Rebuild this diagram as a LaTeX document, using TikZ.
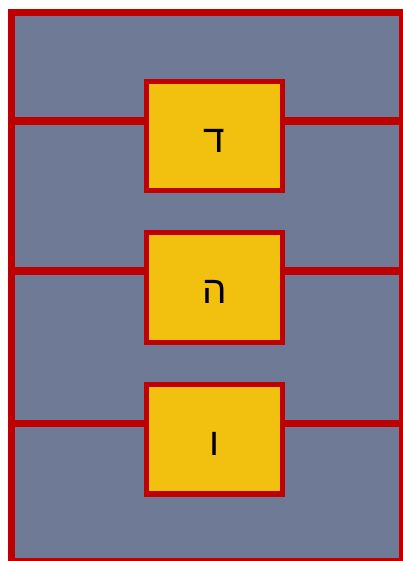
\documentclass[tikz,border=0pt]{standalone}
\usepackage{fontspec}
\setmainfont{Liberation Sans}
\newfontfamily\hebfont[Script=Hebrew]{Liberation Sans}
\TeXXeTstate=1
\usetikzlibrary{positioning, arrows.meta, calc}
\definecolor{frmred}{RGB}{192,0,0}
\definecolor{slateback}{RGB}{110,122,150}
\definecolor{boxyellow}{RGB}{242,192,14}
\newcommand{\hebletter}[1]{\raisebox{-0.09cm}[\height][\depth]{\beginR #1\endR}}
\tikzset{
    letterbox/.style={rectangle, draw=frmred, fill=boxyellow, line width=0.1cm, minimum width=2.72cm, minimum height=2.19cm, align=center, font=\hebfont\fontsize{22}{26}\selectfont, text=black, inner sep=0pt},
    busline/.style={draw=frmred, line width=0.15cm},
    frame/.style={draw=frmred, fill=slateback, line width=0.14cm}
}
\begin{document}
\begin{tikzpicture}
    \clip (0,0) rectangle (8.06,11.22);
    \draw[frame] (0.22,-0.01) rectangle (8.05,10.96);
    % rails
    \coordinate (lft1) at (0.22,8.8);  \coordinate (rgt1) at (8.05,8.8);
    \coordinate (lft2) at (0.22,5.8);  \coordinate (rgt2) at (8.05,5.8);
    \coordinate (lft3) at (0.22,2.75); \coordinate (rgt3) at (8.05,2.75);
    \node[letterbox] (dalet) at (4.29,8.495) {\hebletter{ד}};
    \node[letterbox] (he)    at (4.29,5.465) {\hebletter{ה}};
    \node[letterbox] (vav)   at (4.29,2.435) {\hebletter{ו}};
    \draw[busline] (lft1) -- (lft1 -| dalet.west) (dalet.east |- rgt1) -- (rgt1);
    \draw[busline] (lft2) -- (lft2 -| he.west) (he.east |- rgt2) -- (rgt2);
    \draw[busline] (lft3) -- (lft3 -| vav.west) (vav.east |- rgt3) -- (rgt3);
\end{tikzpicture}
\end{document}
